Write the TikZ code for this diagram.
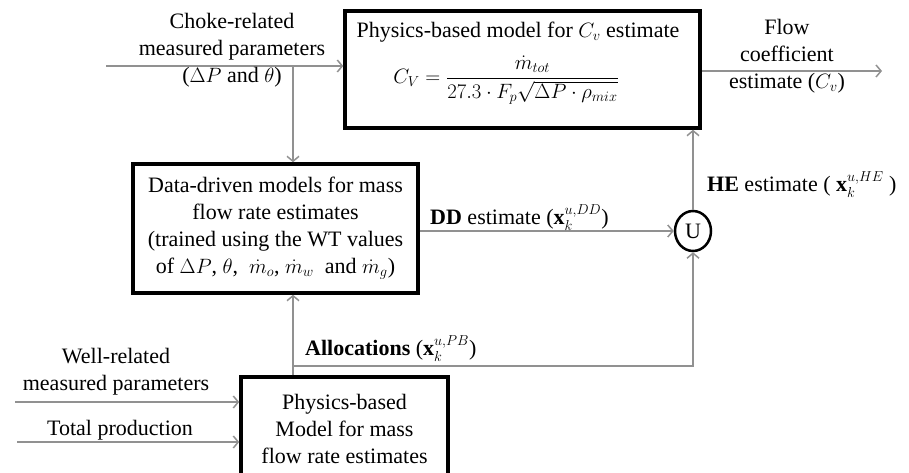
\documentclass[tikz,border=0pt]{standalone}
\usepackage{fontspec}
\setmainfont{Liberation Serif}
\usepackage{amsmath}
\usetikzlibrary{arrows.meta,shapes.geometric}
\definecolor{conncol}{RGB}{145,145,145}
\begin{document}
\begin{tikzpicture}[x=1pt,y=-1pt,
  box/.style={draw=black,line width=3.5pt,fill=white,align=center,inner sep=0pt,font=\fontsize{22}{27}\selectfont},
  lbl/.style={align=center,inner sep=0pt,font=\fontsize{22}{27}\selectfont},
  conn/.style={draw=conncol,line width=1.5pt,-{Straight Barb[length=5pt,width=12pt,line width=1.5pt]}},
  plain/.style={draw=conncol,line width=1.5pt}]
\useasboundingbox (0,0) rectangle (909,473);
% boxes
\node[box,minimum width=355pt,minimum height=117pt] (cv) at (522.5,69.5) {};
\node[lbl] (cvtitle) at (518,32) {Physics-based model for $C_v$ estimate};
\node[lbl] (cvform) at (506,80) {$C_V=\dfrac{\dot m_{tot}}{27.3\cdot F_p\sqrt{\Delta P\cdot\rho_{mix}}}$};
\node[box,minimum width=285pt,minimum height=129pt] (dd) at (275.5,228.5) {Data-driven models for mass\\flow rate estimates\\(trained using the WT values\\of $\Delta P$, $\theta$,\ \ $\dot m_o$, $\dot m_w$\ \ and $\dot m_g$)};
\node[box,minimum width=207pt,minimum height=103pt] (pb) at (344.5,428.5) {Physics-based\\Model for mass\\flow rate estimates};
\node[ellipse,draw=black,line width=2.5pt,minimum width=36pt,minimum height=40pt,inner sep=0pt,font=\fontsize{22}{27}\selectfont] (u) at (693,231) {U};
% coordinates
\coordinate (chokein) at (106,66);
\coordinate (split) at (293,66);
\coordinate (cvout) at (882,71);
\coordinate (alloc) at (693,366);
\coordinate (wellin) at (15,402);
\coordinate (totin) at (17,442);
% connectors
\draw[conn] (chokein) -- (chokein -| cv.west);
\draw[conn] (split) -- (split |- dd.north);
\draw[conn] (cvout -| cv.east) -- (cvout);
\draw[conn] (dd.east |- u.west) -- (u.west);
\draw[conn] (u.north) -- (u.north |- cv.south);
\draw[conn] (pb.north -| split) -- (split |- dd.south);
\draw[conn] (alloc -| split) -- (alloc) -- (u.south);
\draw[conn] (wellin) -- (wellin -| pb.west);
\draw[conn] (totin) -- (totin -| pb.west);
% labels
\node[lbl] (choke) at (232,50) {Choke-related\\measured parameters\\($\Delta P$ and $\theta$)};
\node[lbl] (flow) at (787,56) {Flow\\coefficient\\estimate ($C_v$)};
\node[lbl,anchor=base west] (ddlbl) at (430,224) {\textbf{DD} estimate ($\mathbf{x}_k^{u,DD}$)};
\node[lbl,anchor=base west] (helbl) at (707,191) {\textbf{HE} estimate ( $\mathbf{x}_k^{u,HE}$ )};
\node[lbl,anchor=base west] (allocl) at (305,355) {\textbf{Allocations} ($\mathbf{x}_k^{u,PB}$)};
\node[lbl] (well) at (116,372) {Well-related\\measured parameters};
\node[lbl] (tot) at (120,430) {Total production};
\end{tikzpicture}
\end{document}
